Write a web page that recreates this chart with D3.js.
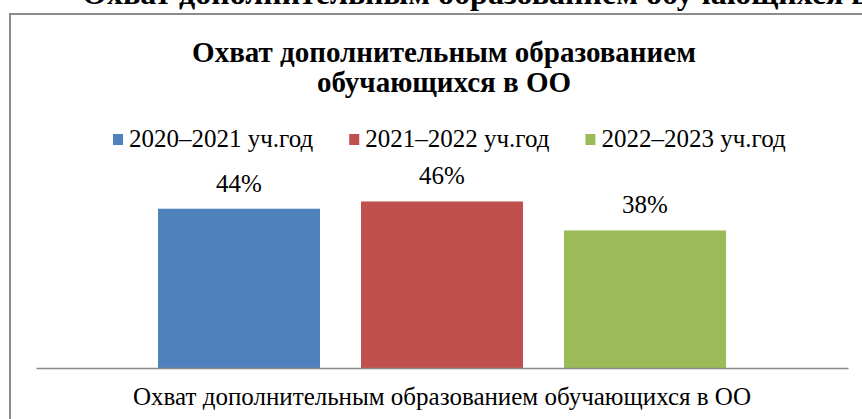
<!DOCTYPE html>
<html lang="ru">
<head>
<meta charset="UTF-8">
<title>Охват дополнительным образованием обучающихся в ОО</title>
<script src="https://d3js.org/d3.v7.min.js"></script>
<style>
    body { margin: 0; background: #fff; }
    svg text { font-family: "Liberation Serif", "Times New Roman", serif; }
</style>
</head>
<body>
<svg width="862" height="419"></svg>
<script>
    // данные диаграммы
    const categories = ["Охват дополнительным образованием обучающихся в ОО"];
    const series = ["2020–2021 уч.год", "2021–2022 уч.год", "2022–2023 уч.год"];
    const values = [0.44, 0.46, 0.38];
    const colors = ["#4F81BD", "#C0504D", "#9BBB59"];
    const titleLines = ["Охват дополнительным образованием", "обучающихся в ОО"];
    const pageHeading = "Охват дополнительным образованием обучающихся в ОО";

    const width = 862, height = 419;
    const plot = { left: 36, right: 848, top: 187, bottom: 368 };

    const svg = d3.select("svg");

    // заголовок страницы (обрезан сверху, как на исходнике)
    svg.append("text")
        .attr("x", 82).attr("y", 4)
        .attr("font-size", 32).attr("font-weight", "bold")
        .text(pageHeading);

    // рамка диаграммы
    svg.append("rect")
        .attr("x", 10).attr("y", 14)
        .attr("width", width + 20).attr("height", height + 20)
        .attr("fill", "none")
        .attr("stroke", "#8c8c8c")
        .attr("stroke-width", 2);

    // заголовок диаграммы
    svg.append("text")
        .attr("text-anchor", "middle")
        .attr("font-size", 29).attr("font-weight", "bold")
        .selectAll("tspan")
        .data(titleLines)
        .join("tspan")
        .attr("x", 444)
        .attr("y", (d, i) => 62 + i * 30)
        .text(d => d);

    // легенда
    const legend = svg.append("g").attr("transform", "translate(113,0)");
    const items = legend.selectAll("g")
        .data(series)
        .join("g");
    items.append("rect")
        .attr("width", 10).attr("height", 11)
        .attr("y", 134)
        .attr("fill", (d, i) => colors[i]);
    items.append("text")
        .attr("x", 16).attr("y", 147)
        .attr("font-size", 25)
        .text(d => d);
    let lx = 0;
    items.each(function () {
        const w = d3.select(this).select("text").node().getComputedTextLength() + 16;
        d3.select(this).attr("transform", `translate(${lx},0)`);
        lx += w + 36;
    });

    // шкалы
    const x0 = d3.scaleBand()
        .domain(categories)
        .range([plot.left, plot.right])
        .paddingInner(0)
        .paddingOuter(0.2148);

    const x1 = d3.scaleBand()
        .domain(series)
        .range([0, x0.bandwidth()])
        .paddingInner(0.202)
        .paddingOuter(0);

    const y = d3.scaleLinear()
        .domain([0, 0.5])
        .range([plot.bottom, plot.top]);

    const rows = series.map((s, i) => ({ series: s, value: values[i], color: colors[i], category: categories[0] }));

    // столбцы
    svg.append("g")
        .selectAll("rect")
        .data(rows)
        .join("rect")
        .attr("x", d => x0(d.category) + x1(d.series))
        .attr("y", d => y(d.value))
        .attr("width", x1.bandwidth())
        .attr("height", d => y(0) - y(d.value))
        .attr("fill", d => d.color);

    // подписи значений
    svg.append("g")
        .selectAll("text")
        .data(rows)
        .join("text")
        .attr("x", d => x0(d.category) + x1(d.series) + x1.bandwidth() / 2)
        .attr("y", d => y(d.value) - 17)
        .attr("text-anchor", "middle")
        .attr("font-size", 25)
        .text(d => d3.format(".0%")(d.value));

    // ось X
    const xAxis = svg.append("g")
        .attr("transform", `translate(0,${plot.bottom})`)
        .call(d3.axisBottom(x0).tickSize(0).tickPadding(0));
    xAxis.attr("font-family", null);
    xAxis.select(".domain")
        .attr("stroke", "#8c8c8c")
        .attr("stroke-width", 1.5);
    xAxis.selectAll(".tick text")
        .attr("font-size", 25)
        .attr("fill", "#000")
        .attr("dy", 0)
        .attr("y", 37);
</script>
</body>
</html>
